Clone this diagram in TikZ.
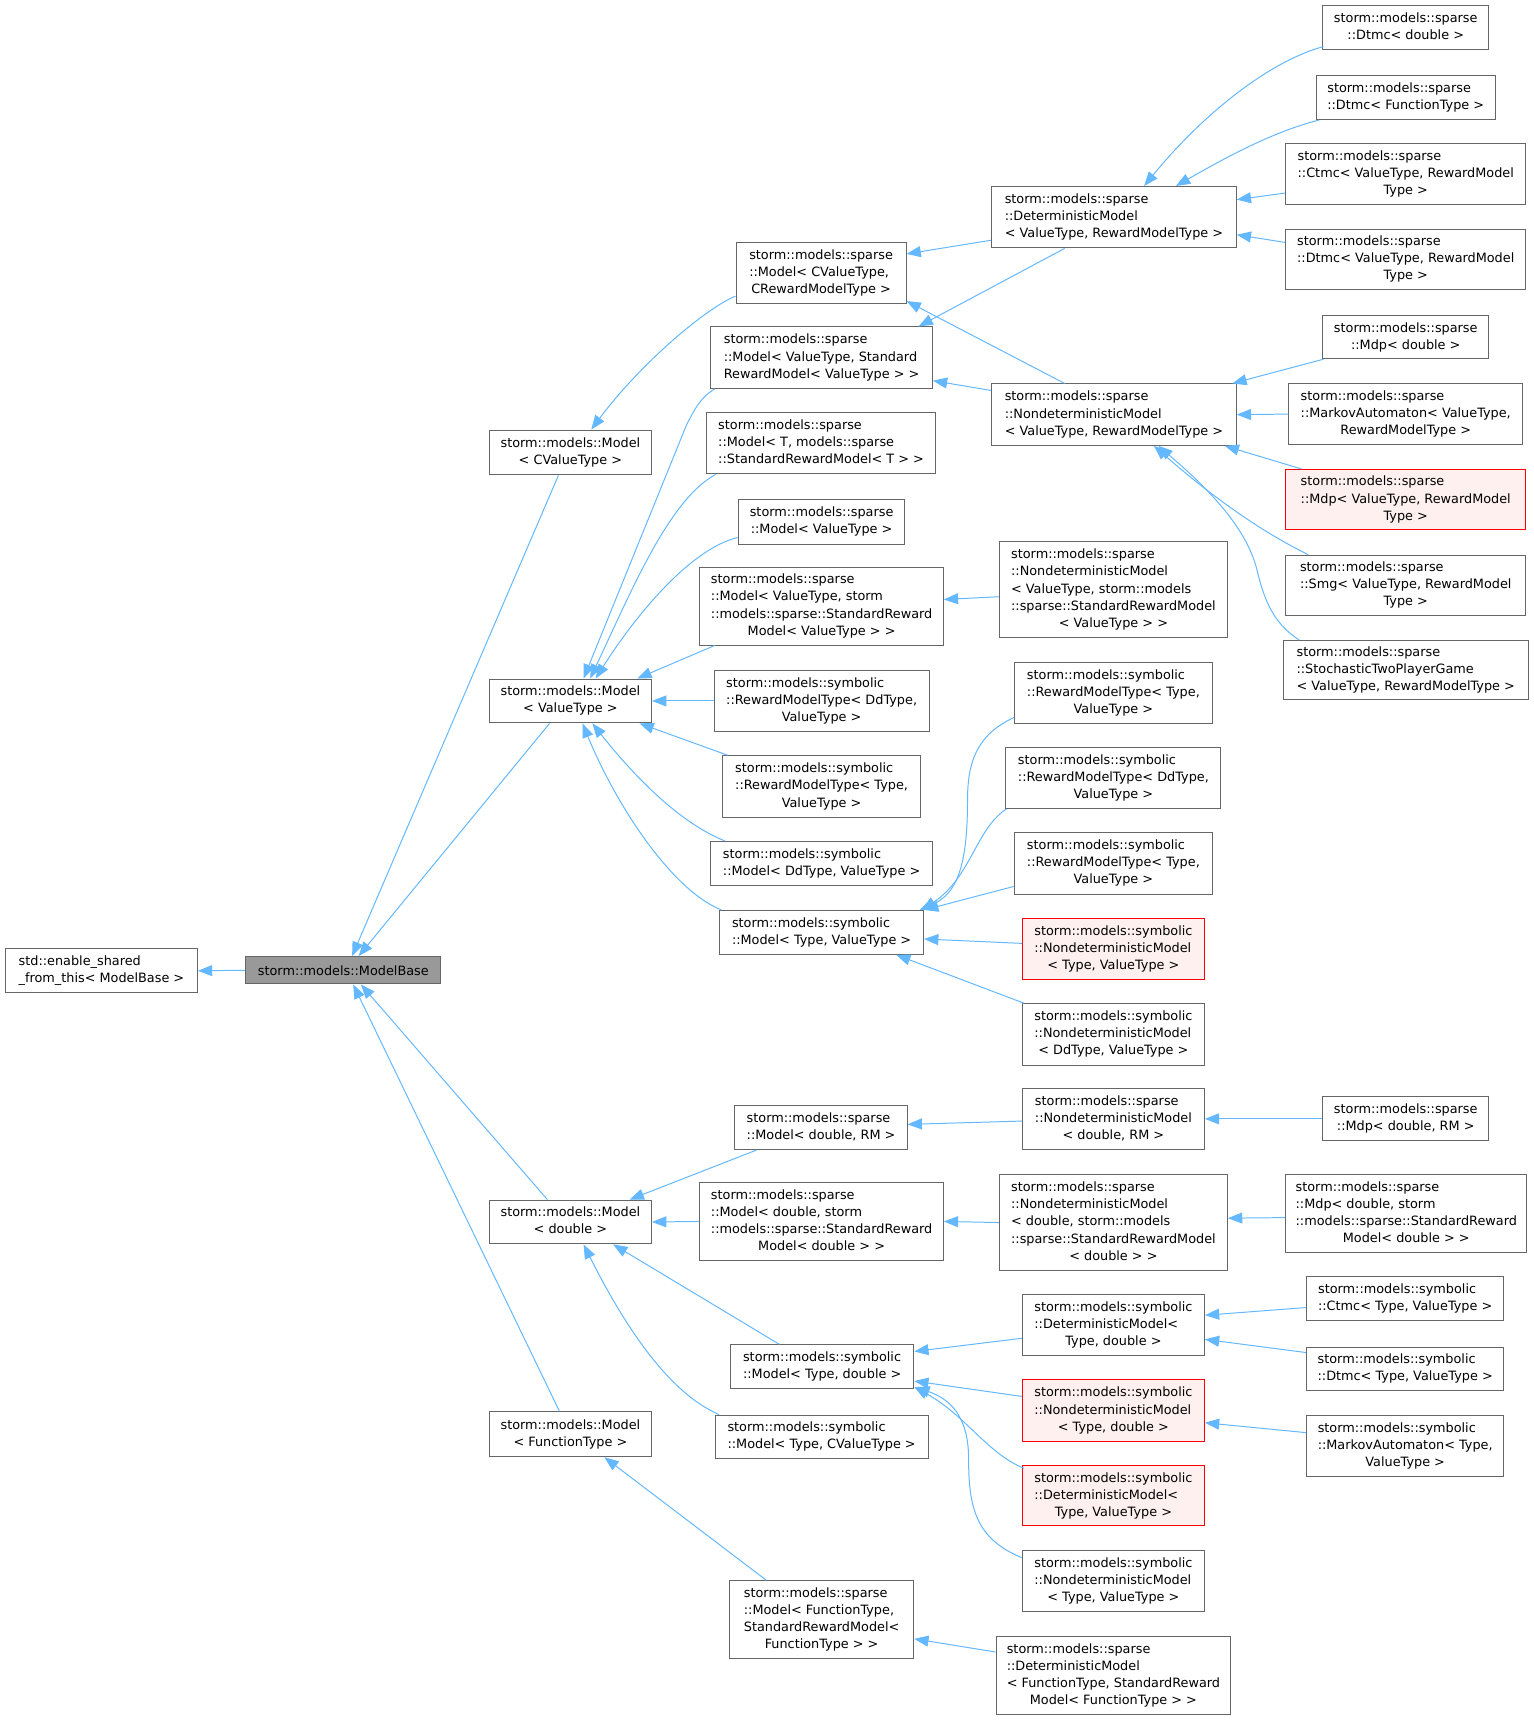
\documentclass[tikz,border=0pt]{standalone}
\usepackage{fontspec}
\setmainfont{DejaVu Sans}
\usetikzlibrary{arrows.meta}
\definecolor{edgeblue}{HTML}{63B8FF}
\definecolor{boxgray}{HTML}{666666}
\definecolor{redfill}{HTML}{FFF0F0}
\definecolor{basefill}{HTML}{999999}
\newcommand\cl[1]{\multicolumn{1}{@{}c@{}}{#1}}
\newcommand\lab[1]{\begin{tabular}{@{}l@{}}#1\end{tabular}}
\newcommand\mk[7][]{\node[box,#1,minimum width={#5pt-#3pt},minimum height={#6pt-#4pt}] (#2) at ({(#3+#5)/2},{(#4+#6)/2}) {#7};}
\tikzset{
  box/.style={draw=boxgray, line width=0.9pt, fill=white, inner sep=0pt, text=black},
  redbox/.style={draw=red, fill=redfill},
  basebox/.style={fill=basefill},
  edge/.style={draw=edgeblue, line width=0.9pt, -{Triangle[length=13pt,width=10pt]}},
}
\begin{document}
\begin{tikzpicture}[x=1pt,y=-1pt,font=\fontsize{11.7}{15.6}\selectfont]
\useasboundingbox[fill=white] (0,0) rectangle (1398,1568);
% column 1-2
\mk{esft}{5}{865}{180}{905}{\lab{std::enable\_shared\\\cl{\_from\_this< ModelBase >}}}
\mk[basebox]{base}{224}{872}{402}{897}{storm::models::ModelBase}
\mk{mcv}{446}{392}{594}{433}{\lab{storm::models::Model\\\cl{< CValueType >}}}
\mk{mvt}{446}{619}{594}{659}{\lab{storm::models::Model\\\cl{< ValueType >}}}
\mk{md}{446}{1094}{594}{1134}{\lab{storm::models::Model\\\cl{< double >}}}
\mk{mft}{446}{1287}{594}{1328}{\lab{storm::models::Model\\\cl{< FunctionType >}}}
% column 3
\mk{spCV}{671}{221}{826}{277}{\lab{storm::models::sparse\\::Model< CValueType,\\\cl{CRewardModelType >}}}
\mk{spVTS}{648}{298}{850}{354}{\lab{storm::models::sparse\\::Model< ValueType, Standard\\\cl{RewardModel< ValueType > >}}}
\mk{spT}{644}{376}{853}{432}{\lab{storm::models::sparse\\::Model< T, models::sparse\\\cl{::StandardRewardModel< T > >}}}
\mk{spVT}{673}{455}{825}{496}{\lab{storm::models::sparse\\\cl{::Model< ValueType >}}}
\mk{spVTs}{638}{517}{860}{588}{\lab{storm::models::sparse\\::Model< ValueType, storm\\::models::sparse::StandardReward\\\cl{Model< ValueType > >}}}
\mk{syRMDd}{651}{611}{847}{667}{\lab{storm::models::symbolic\\::RewardModelType< DdType,\\\cl{ValueType >}}}
\mk{syRMT}{659}{689}{839}{745}{\lab{storm::models::symbolic\\::RewardModelType< Type,\\\cl{ValueType >}}}
\mk{syMDd}{648}{767}{850}{807}{\lab{storm::models::symbolic\\\cl{::Model< DdType, ValueType >}}}
\mk{syMTV}{656}{830}{842}{870}{\lab{storm::models::symbolic\\\cl{::Model< Type, ValueType >}}}
\mk{spDRM}{670}{1008}{827}{1048}{\lab{storm::models::sparse\\\cl{::Model< double, RM >}}}
\mk{spDs}{638}{1078}{860}{1149}{\lab{storm::models::sparse\\::Model< double, storm\\::models::sparse::StandardReward\\\cl{Model< double > >}}}
\mk{syMTD}{666}{1226}{833}{1266}{\lab{storm::models::symbolic\\\cl{::Model< Type, double >}}}
\mk{syMTCV}{652}{1290}{846}{1330}{\lab{storm::models::symbolic\\\cl{::Model< Type, CValueType >}}}
\mk{spFT}{665}{1441}{833}{1512}{\lab{storm::models::sparse\\::Model< FunctionType,\\\cl{StandardRewardModel<}\\\cl{FunctionType > >}}}
% column 4
\mk{spDM}{904}{170}{1127}{226}{\lab{storm::models::sparse\\::DeterministicModel\\\cl{< ValueType, RewardModelType >}}}
\mk{spNDM}{904}{350}{1127}{406}{\lab{storm::models::sparse\\::NondeterministicModel\\\cl{< ValueType, RewardModelType >}}}
\mk{spNDMs}{911}{494}{1119}{581}{\lab{storm::models::sparse\\::NondeterministicModel\\< ValueType, storm::models\\::sparse::StandardRewardModel\\\cl{< ValueType > >}}}
\mk{syRMT2}{925}{604}{1105}{660}{\lab{storm::models::symbolic\\::RewardModelType< Type,\\\cl{ValueType >}}}
\mk{syRMDd2}{917}{681}{1113}{737}{\lab{storm::models::symbolic\\::RewardModelType< DdType,\\\cl{ValueType >}}}
\mk{syRMT3}{925}{759}{1105}{815}{\lab{storm::models::symbolic\\::RewardModelType< Type,\\\cl{ValueType >}}}
\mk[redbox]{syNDMTV}{932}{837}{1098}{893}{\lab{storm::models::symbolic\\::NondeterministicModel\\\cl{< Type, ValueType >}}}
\mk{syNDMDd}{932}{915}{1098}{971}{\lab{storm::models::symbolic\\::NondeterministicModel\\\cl{< DdType, ValueType >}}}
\mk{spNDMD}{932}{992}{1098}{1048}{\lab{storm::models::sparse\\::NondeterministicModel\\\cl{< double, RM >}}}
\mk{spNDMDs}{911}{1071}{1119}{1158}{\lab{storm::models::sparse\\::NondeterministicModel\\< double, storm::models\\::sparse::StandardRewardModel\\\cl{< double > >}}}
\mk{syDMTD}{932}{1180}{1098}{1236}{\lab{storm::models::symbolic\\::DeterministicModel<\\\cl{Type, double >}}}
\mk[redbox]{syNDMTD}{932}{1258}{1098}{1314}{\lab{storm::models::symbolic\\::NondeterministicModel\\\cl{< Type, double >}}}
\mk[redbox]{syDMTV}{932}{1336}{1098}{1391}{\lab{storm::models::symbolic\\::DeterministicModel<\\\cl{Type, ValueType >}}}
\mk{syNDMTV2}{932}{1413}{1098}{1469}{\lab{storm::models::symbolic\\::NondeterministicModel\\\cl{< Type, ValueType >}}}
\mk{spDMFT}{908}{1492}{1122}{1563}{\lab{storm::models::sparse\\::DeterministicModel\\< FunctionType, StandardReward\\\cl{Model< FunctionType > >}}}
% column 5
\mk{dtmcD}{1206}{5}{1357}{45}{\lab{storm::models::sparse\\\cl{::Dtmc< double >}}}
\mk{dtmcFT}{1200}{69}{1363}{109}{\lab{storm::models::sparse\\\cl{::Dtmc< FunctionType >}}}
\mk{ctmcVT}{1172}{131}{1391}{186}{\lab{storm::models::sparse\\::Ctmc< ValueType, RewardModel\\\cl{Type >}}}
\mk{dtmcVT}{1172}{209}{1391}{264}{\lab{storm::models::sparse\\::Dtmc< ValueType, RewardModel\\\cl{Type >}}}
\mk{mdpD}{1206}{288}{1357}{327}{\lab{storm::models::sparse\\\cl{::Mdp< double >}}}
\mk{maVT}{1175}{350}{1388}{405}{\lab{storm::models::sparse\\::MarkovAutomaton< ValueType,\\\cl{RewardModelType >}}}
\mk[redbox]{mdpVT}{1172}{428}{1391}{483}{\lab{storm::models::sparse\\::Mdp< ValueType, RewardModel\\\cl{Type >}}}
\mk{smgVT}{1172}{506}{1391}{561}{\lab{storm::models::sparse\\::Smg< ValueType, RewardModel\\\cl{Type >}}}
\mk{stpgVT}{1170}{584}{1393}{638}{\lab{storm::models::sparse\\::StochasticTwoPlayerGame\\\cl{< ValueType, RewardModelType >}}}
\mk{mdpDRM}{1206}{1000}{1357}{1040}{\lab{storm::models::sparse\\\cl{::Mdp< double, RM >}}}
\mk{mdpDs}{1172}{1071}{1392}{1142}{\lab{storm::models::sparse\\::Mdp< double, storm\\::models::sparse::StandardReward\\\cl{Model< double > >}}}
\mk{syCtmc}{1191}{1164}{1371}{1204}{\lab{storm::models::symbolic\\\cl{::Ctmc< Type, ValueType >}}}
\mk{syDtmc}{1191}{1228}{1371}{1268}{\lab{storm::models::symbolic\\\cl{::Dtmc< Type, ValueType >}}}
\mk{syMA}{1191}{1290}{1371}{1346}{\lab{storm::models::symbolic\\::MarkovAutomaton< Type,\\\cl{ValueType >}}}
% edges to ModelBase
\draw[edge] (base.west) -- (esft.east);
\draw[edge] ([shift={(-11,0)}]mcv.south) -- ([shift={(8,0)}]base.north);
\draw[edge] ([shift={(-19,0)}]mvt.south) -- ([shift={(14,0)}]base.north);
\draw[edge] ([shift={(-21,0)}]md.north) -- ([shift={(16,0)}]base.south);
\draw[edge] ([shift={(-10,0)}]mft.north) -- ([shift={(9,0)}]base.south);
% column 3 -> column 2
\draw[edge] ([shift={(0,21)}]spCV.west) .. controls (645,280) and (585,330) .. ([shift={(19,0)}]mcv.north);
\draw[edge] ([shift={(4,0)}]spVTS.south west) .. controls (638,363) and (634,372) .. (626,387) -- ([shift={(12,0)}]mvt.north);
\draw[edge] ([shift={(9,0)}]spT.south west) .. controls (610,455) and (575,540) .. ([shift={(18,0)}]mvt.north);
\draw[edge] ([shift={(0,14.5)}]spVT.west) .. controls (630,500) and (580,560) .. ([shift={(23,0)}]mvt.north);
\draw[edge] ([shift={(14,0)}]spVTs.south west) -- ([shift={(61,0)}]mvt.north);
\draw[edge] (syRMDd.west) -- (mvt.east);
\draw[edge] ([shift={(5,0)}]syRMT.north west) -- ([shift={(63,0)}]mvt.south);
\draw[edge] ([shift={(13,0)}]syMDd.north west) .. controls (620,750) and (580,710) .. ([shift={(20,0)}]mvt.south);
\draw[edge] ([shift={(2,0)}]syMTV.north west) .. controls (610,810) and (560,730) .. ([shift={(11,0)}]mvt.south);
\draw[edge] ([shift={(20,0)}]spDRM.south west) -- ([shift={(54,0)}]md.north);
\draw[edge] (spDs.west) -- (md.east);
\draw[edge] ([shift={(45,0)}]syMTD.north west) -- ([shift={(39,0)}]md.south);
\draw[edge] ([shift={(4,0)}]syMTCV.north west) .. controls (610,1270) and (570,1210) .. ([shift={(12,0)}]md.south);
\draw[edge] ([shift={(34,0)}]spFT.north west) -- ([shift={(31,0)}]mft.south);
% column 4 -> column 3
\draw[edge] ([shift={(0,21)}]spDM.west) -- ([shift={(0,-17.5)}]spCV.east);
\draw[edge] ([shift={(67,0)}]spDM.south west) -- ([shift={(-13,0)}]spVTS.north east);
\draw[edge] ([shift={(67,0)}]spNDM.north west) -- ([shift={(0,-3)}]spCV.south east);
\draw[edge] ([shift={(0,-22)}]spNDM.west) -- ([shift={(0,21)}]spVTS.east);
\draw[edge] ([shift={(0,6.5)}]spNDMs.west) -- ([shift={(0,-6)}]spVTs.east);
\draw[edge] ([shift={(0,22)}]syRMT2.west) .. controls (890,670) and (882,695) .. (882,730) .. controls (882,790) and (872,815) .. ([shift={(-4,0)}]syMTV.north east);
\draw[edge] ([shift={(1,0)}]syRMDd2.south west) .. controls (890,755) and (885,800) .. ([shift={(-2,0)}]syMTV.north east);
\draw[edge] ([shift={(0,21)}]syRMT3.west) -- (syMTV.north east);
\draw[edge] ([shift={(0,-5)}]syNDMTV.west) -- ([shift={(0,6)}]syMTV.east);
\draw[edge] ([shift={(2,0)}]syNDMDd.north west) -- ([shift={(68,0)}]syMTV.south);
\draw[edge] ([shift={(0,2)}]spNDMD.west) -- ([shift={(0,-3)}]spDRM.east);
\draw[edge] (spNDMDs.west) -- (spDs.east);
\draw[edge] ([shift={(0,12)}]syDMTD.west) -- ([shift={(0,-14)}]syMTD.east);
\draw[edge] ([shift={(0,-13)}]syNDMTD.west) -- ([shift={(0,13)}]syMTD.east);
\draw[edge] ([shift={(2,3)}]syDMTV.north west) .. controls (900,1325) and (880,1290) .. ([shift={(0,-2)}]syMTD.south east);
\draw[edge] ([shift={(0,-21)}]syNDMTV2.west) .. controls (890,1403) and (883,1375) .. (883,1330) .. controls (883,1290) and (865,1275) .. ([shift={(1,-2)}]syMTD.south east);
\draw[edge] ([shift={(0,-21.5)}]spDMFT.west) -- ([shift={(0,17.5)}]spFT.east);
% column 5 -> column 4
\draw[edge] ([shift={(1,-3)}]dtmcD.south west) .. controls (1160,55) and (1100,100) .. ([shift={(27.5,0)}]spDM.north);
\draw[edge] ([shift={(3,0)}]dtmcFT.south west) .. controls (1160,120) and (1115,145) .. ([shift={(56.5,0)}]spDM.north);
\draw[edge] ([shift={(0,17.5)}]ctmcVT.west) -- ([shift={(0,-16)}]spDM.east);
\draw[edge] ([shift={(0,-15.5)}]dtmcVT.west) -- ([shift={(0,16)}]spDM.east);
\draw[edge] ([shift={(1,0)}]mdpD.south west) -- ([shift={(-4,0)}]spNDM.north east);
\draw[edge] (maVT.west) -- (spNDM.east);
\draw[edge] ([shift={(15,0)}]mdpVT.north west) -- ([shift={(-11,0)}]spNDM.south east);
\draw[edge] ([shift={(21,0)}]smgVT.north west) .. controls (1140,480) and (1090,440) .. ([shift={(36.5,0)}]spNDM.south);
\draw[edge] ([shift={(15,0)}]stpgVT.north west) .. controls (1160,568) and (1152,545) .. (1146,520) .. controls (1136,478) and (1095,440) .. ([shift={(40.5,0)}]spNDM.south);
\draw[edge] (mdpDRM.west) -- (spNDMD.east);
\draw[edge] ([shift={(0,3.5)}]mdpDs.west) -- ([shift={(0,-4)}]spNDMDs.east);
\draw[edge] ([shift={(0,8)}]syCtmc.west) -- ([shift={(0,-9)}]syDMTD.east);
\draw[edge] ([shift={(0,-15)}]syDtmc.west) -- ([shift={(0,13)}]syDMTD.east);
\draw[edge] ([shift={(0,-12)}]syMA.west) -- ([shift={(0,11)}]syNDMTD.east);
\end{tikzpicture}
\end{document}
